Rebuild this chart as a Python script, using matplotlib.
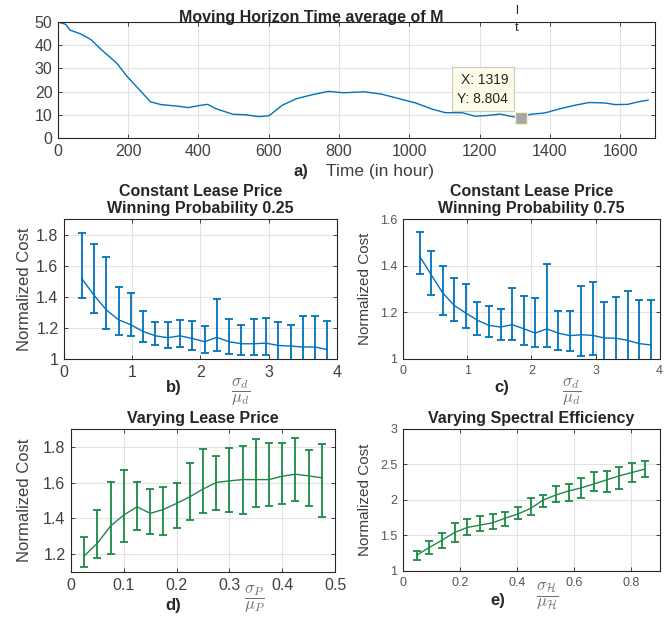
import matplotlib
matplotlib.use('Agg')
import matplotlib.pyplot as plt

plt.rcParams['font.family'] = ['Liberation Sans', 'DejaVu Sans']
plt.rcParams['mathtext.fontset'] = 'cm'

# a) moving horizon time average
hours = [0, 22, 34, 64, 94, 124, 167, 197, 233, 263, 293, 342, 372, 402, 426, 450, 499, 535,
         571, 601, 638, 680, 728, 770, 813, 873, 921, 970, 1018, 1066, 1103, 1151, 1187, 1223,
         1259, 1290, 1319, 1344, 1386, 1429, 1471, 1513, 1556, 1586, 1622, 1658, 1680]
m_avg = [50, 49, 46.5, 44.9, 42.4, 38, 32.3, 26.5, 20.6, 15.6, 14.4, 13.7, 13.1, 14, 14.5, 12.6,
         10.2, 10.0, 9.2, 9.6, 14.1, 17, 18.8, 20.1, 19.5, 19.9, 18.9, 17, 15.1, 12.4, 10.9, 10.9,
         9.4, 9.7, 10.3, 9.3, 8.804, 10.2, 10.8, 12.6, 14.1, 15.3, 15.1, 14.4, 14.5, 15.8, 16.3]
tip_x, tip_y = 1319, 8.804

# b) winning probability 0.25
sd_b = [0.26, 0.44, 0.62, 0.80, 0.98, 1.16, 1.34, 1.52, 1.70, 1.88, 2.06, 2.24, 2.42, 2.60,
        2.78, 2.96, 3.14, 3.32, 3.50, 3.68, 3.86]
cost_b = [1.518, 1.41, 1.316, 1.252, 1.22, 1.177, 1.149, 1.137, 1.149, 1.132, 1.111, 1.139,
          1.111, 1.098, 1.098, 1.102, 1.087, 1.083, 1.077, 1.077, 1.06]
hi_b = [1.813, 1.742, 1.657, 1.465, 1.422, 1.309, 1.239, 1.235, 1.252, 1.245, 1.209, 1.384,
        1.256, 1.22, 1.258, 1.262, 1.241, 1.22, 1.277, 1.279, 1.245]
lo_b = [1.395, 1.294, 1.196, 1.156, 1.145, 1.109, 1.087, 1.068, 1.075, 1.055, 1.041, 1.053,
        1.034, 1.028, 1.023, 1.023, 0.933, 0.946, 0.877, 0.875, 0.875]

# c) winning probability 0.75
sd_c = sd_b
cost_c = [1.44, 1.361, 1.283, 1.229, 1.197, 1.166, 1.144, 1.137, 1.147, 1.13, 1.111, 1.129,
          1.111, 1.1, 1.104, 1.101, 1.09, 1.089, 1.08, 1.066, 1.06]
hi_c = [1.544, 1.463, 1.397, 1.349, 1.32, 1.243, 1.226, 1.213, 1.306, 1.269, 1.26, 1.406,
        1.204, 1.204, 1.311, 1.329, 1.243, 1.264, 1.291, 1.251, 1.251]
lo_c = [1.366, 1.274, 1.189, 1.163, 1.133, 1.104, 1.096, 1.083, 1.08, 1.061, 1.051, 1.053,
        1.04, 1.033, 1.014, 1.016, 0.937, 0.914, 0.869, 0.881, 0.869]

# d) varying lease price
sp_d = [0.025, 0.05, 0.075, 0.1, 0.125, 0.15, 0.175, 0.2, 0.225, 0.25, 0.275, 0.3, 0.325,
        0.35, 0.375, 0.4, 0.425, 0.45, 0.475]
cost_d = [1.19, 1.261, 1.358, 1.419, 1.465, 1.428, 1.45, 1.484, 1.521, 1.564, 1.601, 1.61,
          1.617, 1.617, 1.617, 1.636, 1.647, 1.638, 1.627]
hi_d = [1.298, 1.445, 1.606, 1.673, 1.601, 1.562, 1.578, 1.597, 1.71, 1.786, 1.749, 1.792,
        1.803, 1.844, 1.82, 1.822, 1.848, 1.783, 1.816]
lo_d = [1.126, 1.178, 1.202, 1.269, 1.334, 1.313, 1.308, 1.345, 1.393, 1.43, 1.447, 1.437,
        1.423, 1.465, 1.469, 1.48, 1.499, 1.467, 1.41]

# e) varying spectral efficiency
sh_e = [0.048, 0.092, 0.137, 0.181, 0.226, 0.270, 0.314, 0.359, 0.403, 0.448, 0.492, 0.537,
        0.581, 0.625, 0.670, 0.714, 0.759, 0.803, 0.848]
cost_e = [1.222, 1.33, 1.434, 1.542, 1.613, 1.646, 1.679, 1.745, 1.802, 1.882, 2.0, 2.071,
          2.127, 2.17, 2.226, 2.283, 2.34, 2.387, 2.434]
hi_e = [1.283, 1.425, 1.538, 1.67, 1.731, 1.774, 1.797, 1.835, 1.896, 2.033, 2.075, 2.198,
        2.222, 2.311, 2.387, 2.41, 2.462, 2.514, 2.542]
lo_e = [1.16, 1.245, 1.325, 1.415, 1.505, 1.561, 1.585, 1.632, 1.726, 1.788, 1.896, 1.967,
        1.991, 2.024, 2.127, 2.118, 2.151, 2.25, 2.321]

BLUE = '#0072BD'
GREEN = '#1b8a45'


def style(ax, tick_size, tick_color='#404040'):
    ax.grid(True, color='#e3e3e3', linewidth=0.8)
    ax.set_axisbelow(True)
    for s in ax.spines.values():
        s.set_color('#262626')
        s.set_linewidth(0.8)
    ax.tick_params(direction='in', length=3, top=True, right=True, width=0.6,
                   labelsize=tick_size, labelcolor=tick_color, color='#262626', pad=4)


def err_panel(ax, x, y, hi, lo, color):
    yerr = [[m - l for m, l in zip(y, lo)], [h - m for m, h in zip(y, hi)]]
    ax.errorbar(x, y, yerr=yerr, color=color, lw=1.0, elinewidth=1.3, capsize=2.6,
                capthick=1.3, clip_on=True)


fig = plt.figure(figsize=(6.65, 6.18), dpi=100)

# a)
ax = fig.add_axes([0.0872, 0.7767, 0.898, 0.1877])
style(ax, 11.5)
ax.plot(hours, m_avg, color=BLUE, lw=1.0)
ax.set_xlim(0, 1700)
ax.set_ylim(0, 50)
ax.set_xticks(range(0, 1700, 200))
ax.set_yticks(range(0, 51, 10))
ax.plot([tip_x], [tip_y], marker='s', ms=8, color='#a6a6a6', mec='#f2f2c8', mew=1)
ax.annotate(f'X: {tip_x}\nY: {tip_y}', xy=(tip_x, tip_y), xytext=(-13, 12),
            textcoords='offset pixels', ha='right', va='bottom', fontsize=10,
            color='#262626', linespacing=1.45,
            bbox=dict(boxstyle='square,pad=0.4', fc='#fbfbe8', ec='#c8c8c8', lw=0.8))
fig.text(0.468, 0.972, 'Moving Horizon Time average of M', ha='center', va='center',
         fontsize=11.5, fontweight='bold', color='#262626')
fig.text(0.777, 0.982, 'l', ha='center', va='center', fontsize=9, color='#262626')
fig.text(0.777, 0.955, 't', ha='center', va='center', fontsize=9, color='#262626')
fig.text(0.452, 0.722, 'a)', ha='center', va='center', fontsize=12, fontweight='bold',
         color='#262626')
fig.text(0.572, 0.722, 'Time (in hour)', ha='center', va='center', fontsize=12.5,
         color='#404040')

# b)
ax = fig.add_axes([0.0962, 0.4191, 0.4105, 0.2265])
style(ax, 11.5)
err_panel(ax, sd_b, cost_b, hi_b, lo_b, BLUE)
ax.set_xlim(0, 4)
ax.set_ylim(1, 1.9)
ax.set_yticks([1, 1.2, 1.4, 1.6, 1.8])
ax.set_yticklabels(['1', '1.2', '1.4', '1.6', '1.8'])
ax.set_ylabel('Normalized Cost', fontsize=12, color='#404040', labelpad=3)
ax.set_title('Constant Lease Price\nWinning Probability 0.25', fontsize=11.5,
             fontweight='bold', color='#262626', pad=4, linespacing=1.2)
fig.text(0.262, 0.373, 'b)', ha='center', va='center', fontsize=12, fontweight='bold',
         color='#262626')
fig.text(0.362, 0.365, r'$\dfrac{\sigma_d}{\mu_d}$', ha='center', va='center',
         fontsize=12, color='#707070')

# c)
ax = fig.add_axes([0.606, 0.4191, 0.386, 0.2265])
style(ax, 9, '#555555')
err_panel(ax, sd_c, cost_c, hi_c, lo_c, BLUE)
ax.set_xlim(0, 4)
ax.set_ylim(1, 1.6)
ax.set_yticks([1, 1.2, 1.4, 1.6])
ax.set_yticklabels(['1', '1.2', '1.4', '1.6'])
ax.set_ylabel('Normalized Cost', fontsize=11, color='#404040', labelpad=6)
ax.set_title('Constant Lease Price\nWinning Probability 0.75', fontsize=11.5,
             fontweight='bold', color='#262626', pad=4, linespacing=1.2)
fig.text(0.755, 0.373, 'c)', ha='center', va='center', fontsize=12, fontweight='bold',
         color='#262626')
fig.text(0.86, 0.365, r'$\dfrac{\sigma_d}{\mu_d}$', ha='center', va='center',
         fontsize=12, color='#707070')

# d)
ax = fig.add_axes([0.1068, 0.0744, 0.397, 0.2314])
style(ax, 11.5)
err_panel(ax, sp_d, cost_d, hi_d, lo_d, GREEN)
ax.set_xlim(0, 0.5)
ax.set_ylim(1.1, 1.9)
ax.set_yticks([1.2, 1.4, 1.6, 1.8])
ax.set_xticks([0, 0.1, 0.2, 0.3, 0.4, 0.5])
ax.set_xticklabels(['0', '0.1', '0.2', '0.3', '0.4', '0.5'])
ax.set_ylabel('Normalized Cost', fontsize=12, color='#404040', labelpad=8)
ax.set_title('Varying Lease Price', fontsize=11.5, fontweight='bold', color='#262626',
             pad=4)
fig.text(0.26, 0.021, 'd)', ha='center', va='center', fontsize=12, fontweight='bold',
         color='#262626')
fig.text(0.383, 0.03, r'$\dfrac{\sigma_P}{\mu_P}$', ha='center', va='center',
         fontsize=12, color='#707070')

# e)
ax = fig.add_axes([0.606, 0.0761, 0.386, 0.2298])
style(ax, 9, '#555555')
err_panel(ax, sh_e, cost_e, hi_e, lo_e, GREEN)
ax.set_xlim(0, 0.9)
ax.set_ylim(1, 3)
ax.set_yticks([1, 1.5, 2, 2.5, 3])
ax.set_yticklabels(['1', '1.5', '2', '2.5', '3'])
ax.set_xticks([0, 0.2, 0.4, 0.6, 0.8])
ax.set_xticklabels(['0', '0.2', '0.4', '0.6', '0.8'])
ax.set_ylabel('Normalized Cost', fontsize=11, color='#404040', labelpad=6)
ax.set_title('Varying Spectral Efficiency', fontsize=11.5, fontweight='bold',
             color='#262626', pad=4)
fig.text(0.749, 0.029, 'e)', ha='center', va='center', fontsize=12, fontweight='bold',
         color='#262626')
fig.text(0.823, 0.035, r'$\dfrac{\sigma_{\mathcal{H}}}{\mu_{\mathcal{H}}}$', ha='center',
         va='center', fontsize=12, color='#707070')

fig.savefig('out.png', dpi=100)
